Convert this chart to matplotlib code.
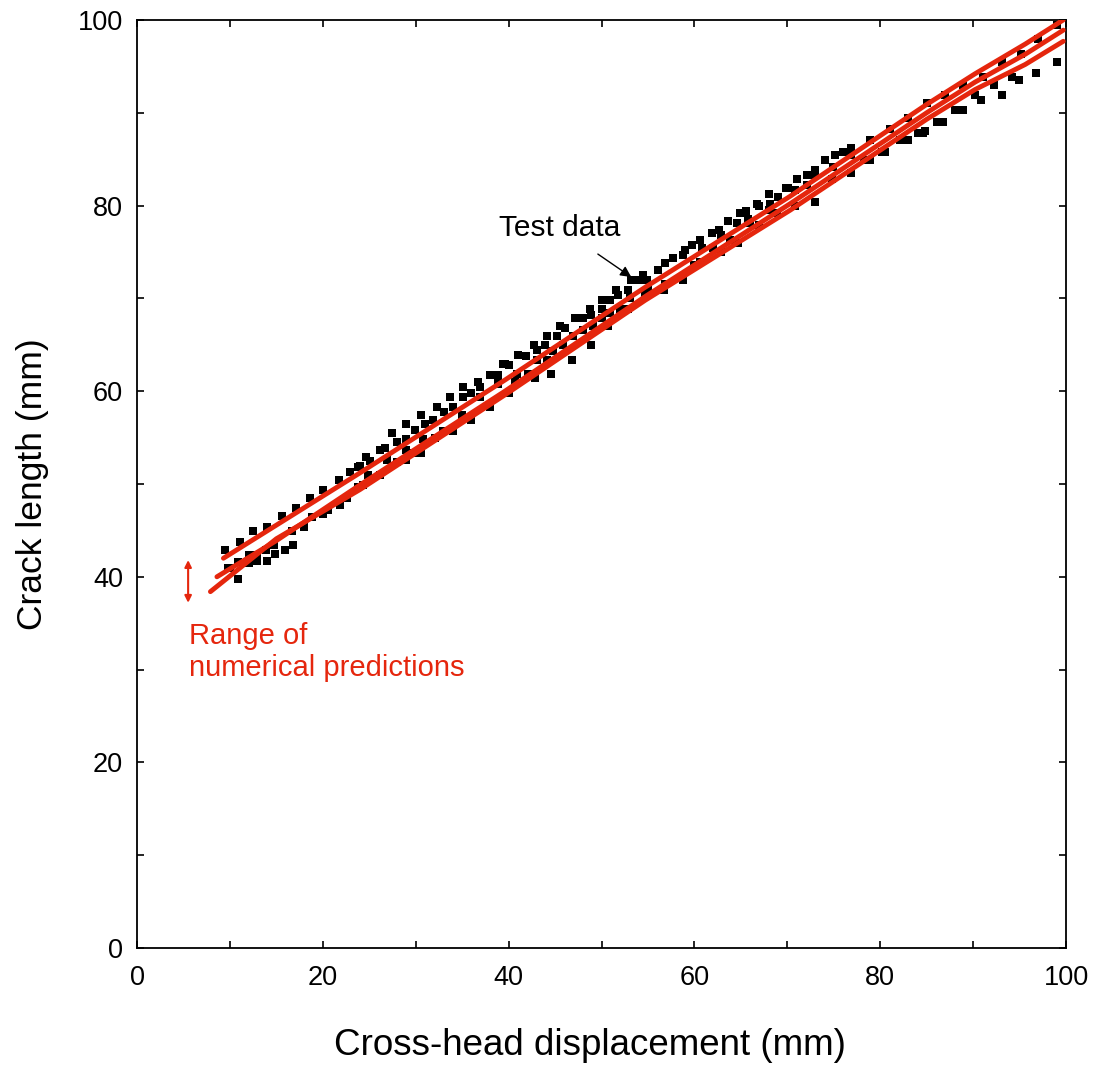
import matplotlib
matplotlib.use("Agg")
import matplotlib.pyplot as plt
from matplotlib.ticker import MultipleLocator

plt.rcParams['font.family'] = ['Liberation Sans', 'DejaVu Sans']

# Test data (cross-head displacement, crack length)
test_x = [9.5, 11.1, 12.5, 14.0, 15.6, 17.1, 18.6, 20.0, 21.7, 22.9,
          9.8, 10.0, 10.9, 10.9, 12.0, 12.0, 12.9, 12.9, 14.0, 13.9,
          14.7, 14.8, 15.9, 16.8, 16.7, 18.0, 18.8, 20.0, 20.6, 21.9,
          22.6, 23.8,
          24.0, 24.7, 25.1, 26.2, 26.7, 27.4, 28.0, 29.0, 28.9, 29.9,
          30.6, 31.0, 31.9, 32.3, 33.0, 33.7, 34.0, 35.1, 35.1, 36.0,
          36.7, 36.9, 38.0, 38.9, 39.4,
          23.8, 24.3, 24.9, 26.2, 26.9, 28.0, 28.9, 28.9, 29.7, 30.6,
          30.8, 32.1, 32.9, 34.0, 35.0, 36.0, 36.9, 38.0, 38.9,
          38.9, 39.6, 40.0, 41.0, 41.9, 42.7, 43.0, 43.9, 44.1, 45.2,
          45.5, 46.1, 47.1, 48.0, 48.8, 48.9, 50.0, 50.9, 50.0, 51.6,
          51.8, 52.9, 53.2, 54.0,
          38.9, 40.0, 40.7, 40.9, 42.1, 42.8, 43.0, 44.1, 44.6, 44.8,
          45.9, 46.8, 46.9, 48.0, 48.9, 49.1, 50.0, 50.7, 50.9, 52.0,
          52.9, 53.1,
          54.5, 54.9, 56.1, 56.8, 57.7, 58.8, 59.0, 59.7, 60.6, 60.8,
          61.9, 62.6, 62.9, 63.6, 64.6, 64.9, 65.6, 65.8, 66.7, 66.9,
          68.0, 68.1, 69.0, 69.9,
          54.7, 55.0, 56.7, 56.8, 58.8, 59.9, 60.6, 62.0, 62.9, 63.8,
          64.7, 66.0, 66.9, 68.0, 68.9,
          70.1, 71.0, 70.8, 72.1, 73.0, 73.0, 72.1, 74.1, 75.1, 74.9,
          76.0, 76.9, 76.9, 76.8, 74.8, 70.8, 73.0, 78.2, 78.9, 78.9,
          80.2, 80.5, 81.1, 82.1, 83.0, 83.0, 84.1, 84.6, 85.0,
          84.8, 86.1, 86.8, 87.0, 88.1, 88.9, 88.9, 90.2, 90.8, 91.1,
          92.2, 93.1, 93.1, 94.2, 94.9, 95.1, 96.8, 97.0, 99.0, 99.0]
test_y = [42.9, 43.7, 44.9, 45.4, 46.5, 47.4, 48.5, 49.4, 50.4, 51.3,
          40.9, 40.9, 39.8, 41.6, 42.4, 41.5, 42.4, 41.7, 41.7, 42.9,
          43.4, 42.5, 42.9, 43.4, 44.9, 45.4, 46.4, 46.8, 47.2, 47.7,
          48.5, 51.8,
          51.9, 52.9, 52.5, 53.7, 53.9, 55.5, 54.5, 56.5, 54.9, 55.8,
          57.4, 56.5, 56.9, 58.3, 57.8, 59.4, 58.3, 60.5, 59.4, 59.8,
          61.0, 60.5, 61.7, 61.7, 62.9,
          49.7, 49.9, 51.0, 51.0, 52.6, 52.4, 53.7, 52.6, 53.3, 53.3,
          54.9, 55.0, 55.7, 55.7, 57.4, 56.9, 59.4, 58.3, 60.8,
          61.7, 62.9, 62.8, 63.9, 63.8, 65.0, 64.4, 65.0, 65.9, 65.9,
          67.0, 66.8, 67.9, 67.9, 68.9, 68.2, 69.8, 69.8, 68.9, 70.9,
          70.4, 70.9, 72.0, 72.0,
          61.0, 59.8, 61.0, 61.9, 61.9, 61.4, 63.4, 63.4, 61.9, 64.3,
          65.0, 63.4, 65.9, 66.6, 65.0, 67.0, 67.9, 67.0, 68.4, 68.9,
          68.9, 70.0,
          72.5, 72.0, 73.1, 73.8, 74.3, 74.7, 75.2, 75.8, 76.3, 75.4,
          77.0, 77.4, 76.8, 78.3, 78.1, 79.2, 79.4, 78.5, 80.2, 79.9,
          81.3, 80.2, 80.9, 81.9,
          70.4, 70.9, 70.9, 71.6, 72.0, 73.6, 73.9, 75.4, 75.0, 76.3,
          76.0, 78.1, 77.9, 79.5, 79.2,
          81.9, 82.9, 81.7, 83.3, 83.8, 83.3, 82.2, 84.9, 85.5, 84.2,
          85.8, 86.2, 85.5, 83.5, 82.9, 79.9, 80.4, 84.9, 84.9, 87.1,
          85.8, 85.8, 88.3, 87.1, 87.1, 89.4, 87.8, 87.8, 91.0,
          88.0, 89.0, 89.0, 91.9, 90.3, 90.3, 93.0, 91.9, 91.4, 93.9,
          93.0, 91.9, 95.5, 93.9, 93.5, 96.3, 94.3, 98.0, 95.5, 99.5]

# Numerical predictions (three curves bounding the range)
upper_x = [9.3, 24.0, 39.6, 54.7, 70.3, 85.0, 90.2, 95.6, 99.7]
upper_y = [42.0, 51.2, 61.2, 71.2, 81.0, 90.9, 94.2, 97.4, 100.0]
middle_x = [8.6, 15.0, 24.0, 39.6, 54.7, 70.3, 85.0, 90.2, 95.6, 99.7]
middle_y = [40.0, 43.9, 49.9, 60.0, 70.2, 80.2, 90.0, 93.3, 96.3, 98.9]
lower_x = [7.9, 15.0, 24.0, 39.6, 54.7, 70.3, 85.0, 90.2, 95.6, 99.7]
lower_y = [38.4, 44.1, 49.4, 59.6, 69.8, 79.5, 89.3, 92.5, 95.2, 97.7]

red = '#e5260d'

fig = plt.figure(figsize=(10.98, 10.67), dpi=100)
ax = fig.add_axes([0.1248, 0.1115, 0.8461, 0.8698])

ax.plot(test_x, test_y, 's', color='black', markersize=5.4, markeredgewidth=0, zorder=2)
for xs, ys in [(upper_x, upper_y), (middle_x, middle_y), (lower_x, lower_y)]:
    ax.plot(xs, ys, '-', color=red, linewidth=3.5, solid_capstyle='round',
            solid_joinstyle='round', zorder=3)

ax.set_xlim(0, 100)
ax.set_ylim(0, 100)
ax.xaxis.set_major_locator(MultipleLocator(20))
ax.xaxis.set_minor_locator(MultipleLocator(10))
ax.yaxis.set_major_locator(MultipleLocator(20))
ax.yaxis.set_minor_locator(MultipleLocator(10))
ax.tick_params(which='both', direction='in', top=True, right=True,
               length=5, width=1.2, labelsize=19.5)
ax.tick_params(axis='x', pad=12)
ax.tick_params(axis='y', pad=10)
for sp in ax.spines.values():
    sp.set_linewidth(1.3)

ax.set_xlabel('Cross-head displacement (mm)', fontsize=26.5)
ax.xaxis.set_label_coords(0.487, -0.086)
ax.set_ylabel('Crack length (mm)', fontsize=25.5, labelpad=21)

# annotations
ax.annotate('Test data', xy=(53.2, 72.3), xytext=(45.5, 77.6),
            fontsize=21.5, ha='center', va='center',
            arrowprops=dict(arrowstyle='-|>', color='black', lw=1.0,
                            shrinkA=12, shrinkB=0, mutation_scale=16))
ax.annotate('', xy=(5.5, 37.2), xytext=(5.5, 41.8),
            arrowprops=dict(arrowstyle='<|-|>', color=red, lw=1.5,
                            shrinkA=0, shrinkB=0, mutation_scale=10))
ax.text(5.6, 35.1, 'Range of\nnumerical predictions', color=red,
        fontsize=21, ha='left', va='top', linespacing=1.15)

fig.savefig('out.png', dpi=100)
